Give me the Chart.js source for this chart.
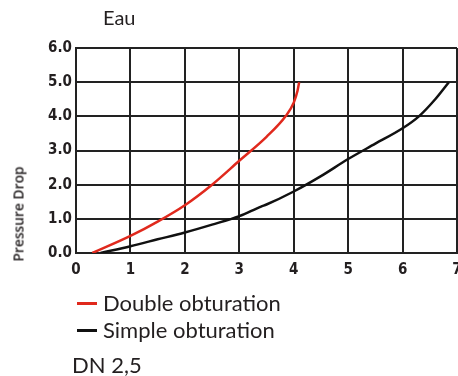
<!DOCTYPE html>
<html><head><meta charset="utf-8">
<script src="https://cdn.jsdelivr.net/npm/chart.js@4/dist/chart.umd.min.js"></script>
<style>
html,body{margin:0;padding:0;width:458px;height:376px;overflow:hidden;background:#fff;}
#wrap{position:absolute;left:0;top:0;width:480px;height:290px;}
.t{position:absolute;white-space:nowrap;color:#231f20;font-family:Lato,"Open Sans",sans-serif;}
.sw{position:absolute;height:3px;width:20px;}
</style></head><body>
<div id="wrap"><canvas id="c" width="480" height="290"></canvas></div>
<div class="t" style="left:103px;top:5px;font-size:20px;">Eau</div>
<div class="t" style="left:18px;top:214px;font-size:13.8px;font-weight:600;font-family:'Open Sans',sans-serif;transform:translate(-50%,-50%) rotate(-90deg);">Pressure Drop</div>
<div class="sw" style="left:77px;top:302px;background:#e0291d;"></div>
<div class="t" style="left:103px;top:289px;font-size:22px;">Double obturation</div>
<div class="sw" style="left:77px;top:329px;background:#111;"></div>
<div class="t" style="left:103px;top:316px;font-size:22px;">Simple obturation</div>
<div class="t" style="left:72px;top:351px;font-size:22px;">DN 2,5</div>
<script>
const seriesNames = ["Double obturation", "Simple obturation"];
const doubleX = [0.3, 1.0, 1.5, 2.0, 2.5, 3.0, 3.5, 3.85, 4.0, 4.07, 4.1];
const doubleY = [0.0, 0.5, 0.92, 1.4, 2.0, 2.7, 3.4, 4.0, 4.4, 4.75, 5.0];
const simpleX = [0.45, 1.0, 1.5, 2.0, 2.5, 3.0, 3.4, 3.5, 4.0, 4.5, 5.0, 5.5, 6.0, 6.3, 6.6, 6.85];
const simpleY = [0.0, 0.2, 0.4, 0.6, 0.83, 1.08, 1.36, 1.42, 1.8, 2.25, 2.75, 3.2, 3.65, 4.0, 4.5, 5.0];
const xTicks = [0, 1, 2, 3, 4, 5, 6, 7];
const yTicks = [0, 1, 2, 3, 4, 5, 6];

const pts = (xs, ys) => xs.map((x, i) => ({x: x, y: ys[i]}));
const tickFont = {family: "'DejaVu Sans Condensed', sans-serif", size: 15, weight: 'bold'};

new Chart(document.getElementById('c'), {
  type: 'scatter',
  data: {
    datasets: [
      {label: seriesNames[0], data: pts(doubleX, doubleY), showLine: true, borderColor: '#e0291d', borderWidth: 2.5, pointRadius: 0, cubicInterpolationMode: 'monotone'},
      {label: seriesNames[1], data: pts(simpleX, simpleY), showLine: true, borderColor: '#111111', borderWidth: 2.5, pointRadius: 0, cubicInterpolationMode: 'monotone'}
    ]
  },
  options: {
    responsive: false,
    animation: false,
    layout: {padding: {left: 0, top: 48, right: 23, bottom: 0}},
    plugins: {legend: {display: false}, title: {display: false}, tooltip: {enabled: false}},
    scales: {
      x: {
        type: 'linear', min: 0, max: 7,
        afterBuildTicks: s => { s.ticks = xTicks.map(v => ({value: v})); },
        afterFit: s => { s.height = 37; },
        grid: {color: '#222', lineWidth: 2, drawTicks: false},
        border: {color: '#222', width: 2},
        ticks: {color: '#231f20', font: tickFont, padding: 8, callback: v => String(v)}
      },
      y: {
        type: 'linear', min: 0, max: 6,
        afterBuildTicks: s => { s.ticks = yTicks.map(v => ({value: v})); },
        afterFit: s => { s.width = 76; },
        grid: {color: '#222', lineWidth: 2, drawTicks: false},
        border: {color: '#222', width: 2},
        ticks: {color: '#231f20', font: tickFont, padding: 4, callback: v => Number(v).toFixed(1)}
      }
    }
  }
});
</script>
</body></html>
